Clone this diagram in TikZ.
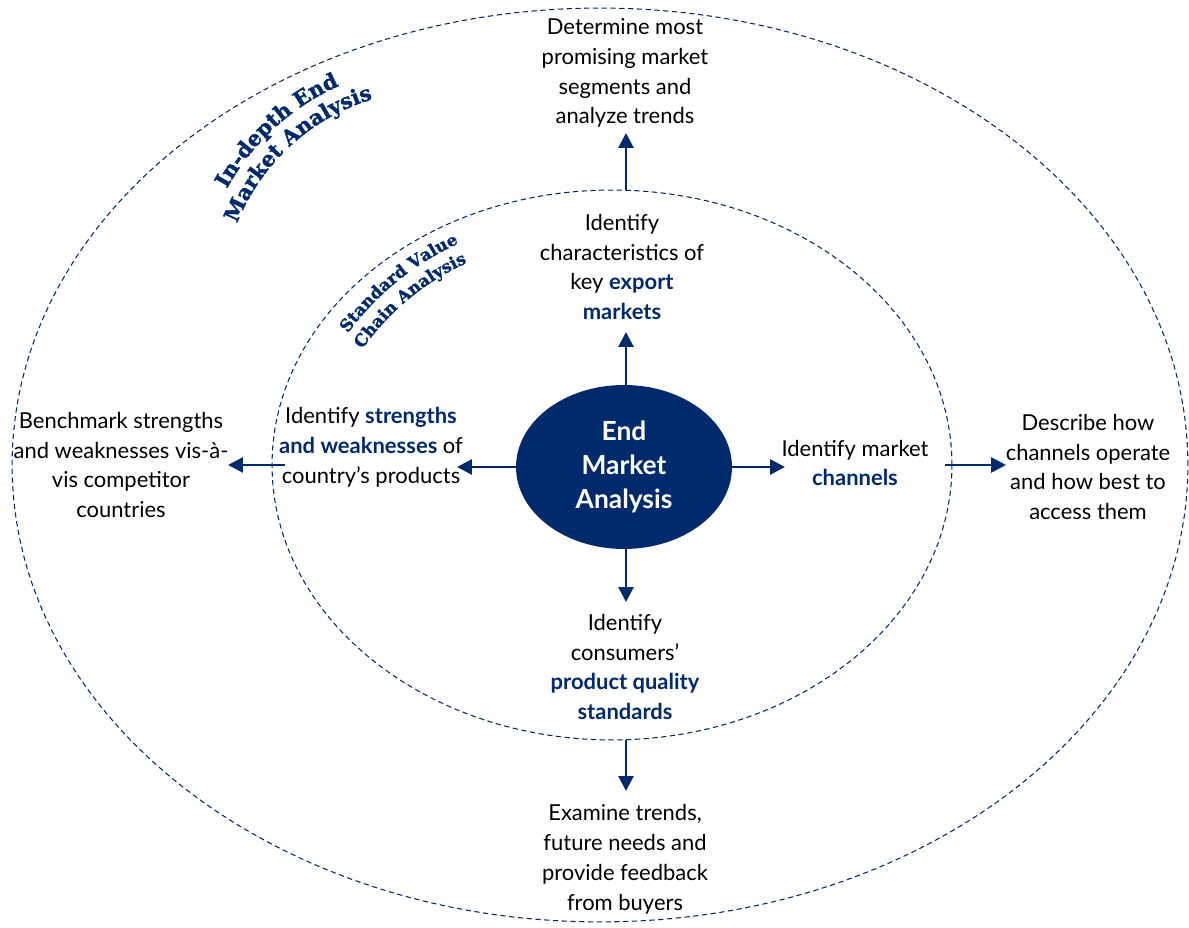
\documentclass[tikz,border=0pt]{standalone}
\usepackage{fontspec}
\setmainfont{Lato}
\newfontfamily\arcfont[BoldFeatures={FakeBold=1.6}]{DejaVu Serif}
\usepackage{xcolor}
\definecolor{navy}{RGB}{0,42,108}
\usepackage{tikz}
\usetikzlibrary{shapes,arrows.meta,positioning,calc}
\usetikzlibrary{decorations.text}

\newcommand{\hilite}[1]{\textcolor{navy}{\bfseries #1}}

\begin{document}
\begin{tikzpicture}[x=0.02cm, y=0.02cm,
        every node/.style={inner sep=0pt},
        ring/.style={ellipse, draw=navy, line width=0.6pt, dash pattern=on 3pt off 2pt},
        txt/.style={align=center, font=\fontsize{12.5}{17}\selectfont},
        flow/.style={draw=navy, line width=1.6pt, -{Triangle[width=8.5pt,length=8.5pt]}},
        arclbl/.style={decorate, decoration={text along path, text align=center, text={#1}}}]
    \useasboundingbox (0,0) rectangle (1189,928);

    % the two dashed rings and the core
    \node[ring, minimum width=23.52cm, minimum height=18.28cm] (outer) at (600,463) {};
    \node[ring, minimum width=13.6cm, minimum height=11cm] (inner) at (612,463) {};
    \node[ellipse, fill=navy, text=white, minimum width=4.32cm, minimum height=3.28cm,
          align=center, font=\bfseries\fontsize{15}{19.5}\selectfont] (ema) at (624,461)
          {End\\Market\\Analysis};

    % inner ring
    \node[txt] (export) at (622,661) {Identify\\characteristics of\\key \hilite{export}\\\hilite{markets}};
    \node[txt] (strengths) at (371,481) {Identify \hilite{strengths}\\\hilite{and weaknesses} of\\country's products};
    \node[txt] (channels) at (855,465) {Identify market\\\hilite{channels}};
    \node[txt] (quality) at (625,261) {Identify\\consumers'\\\hilite{product quality}\\\hilite{standards}};

    % outer ring
    \node[txt] (segments) at (625,855) {Determine most\\promising market\\segments and\\analyze trends};
    \node[txt] (bench) at (121,463) {Benchmark strengths\\and weaknesses vis-à-\\vis competitor\\countries};
    \node[txt] (access) at (1088,461) {Describe how\\channels operate\\and how best to\\access them};
    \node[txt] (buyers) at (625,69) {Examine trends,\\future needs and\\provide feedback\\from buyers};

    % arrow tips
    \coordinate (tipN1) at (626,596);
    \coordinate (tipN2) at (626,795);
    \coordinate (tipS1) at (626,326);
    \coordinate (tipS2) at (626,137);
    \coordinate (tipW1) at (457,461);
    \coordinate (tipE1) at (785,461);
    \coordinate (tipW2) at (228,463);
    \coordinate (tipE2) at (1006,463);

    \foreach \a/\b in {ema.north -| tipN1/tipN1, inner.north -| tipN2/tipN2,
                       ema.south -| tipS1/tipS1, inner.south -| tipS2/tipS2,
                       ema.west/tipW1, ema.east/tipE1} {
        \draw[flow] (\a) -- (\b);
    }
    \draw[flow, shorten <=-0.26cm] (inner.west) -- (tipW2);
    \draw[flow, shorten <=-0.14cm] (inner.east) -- (tipE2);

    % curved ring titles
    \path[arclbl={|\arcfont\bfseries\fontsize{12}{12}\selectfont\color{navy}|In-depth End}]
        (434,626) ++(172:236) arc[start angle=172, end angle=93, radius=236];
    \path[arclbl={|\arcfont\bfseries\fontsize{12}{12}\selectfont\color{navy}|Market Analysis}]
        (434,626) ++(172:212) arc[start angle=172, end angle=93, radius=212];
    \path[arclbl={|\arcfont\bfseries\fontsize{9.5}{9.5}\selectfont\color{navy}|Standard Value}]
        (573,430) ++(165:279) arc[start angle=165, end angle=93, radius=279];
    \path[arclbl={|\arcfont\bfseries\fontsize{9.5}{9.5}\selectfont\color{navy}|Chain Analysis}]
        (573,430) ++(165:258) arc[start angle=165, end angle=94, radius=258];
\end{tikzpicture}
\end{document}
